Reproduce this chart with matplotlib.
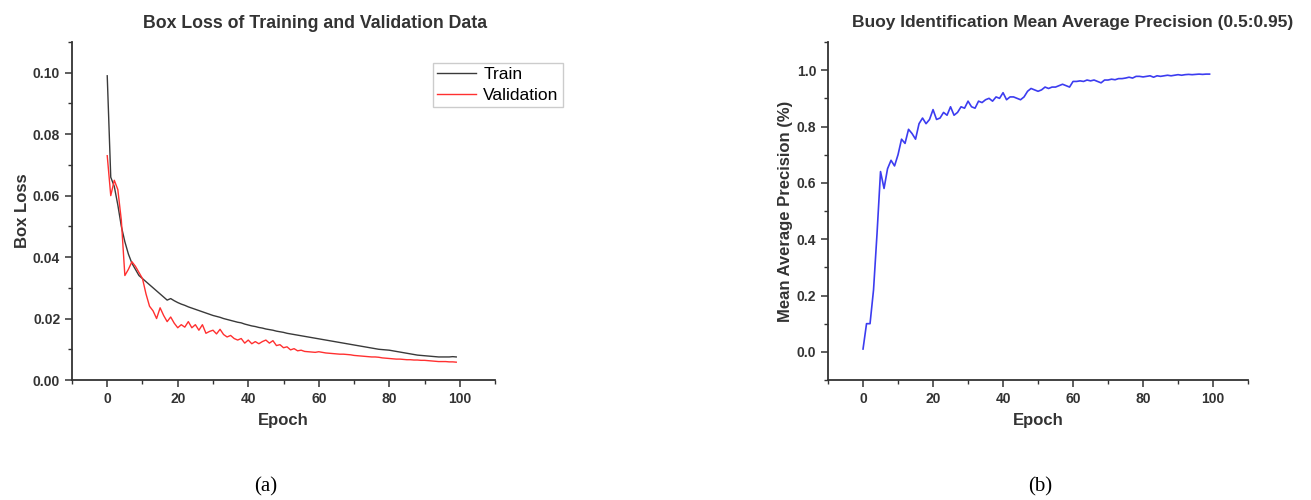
import numpy as np
import matplotlib
matplotlib.use("Agg")
import matplotlib.pyplot as plt
from matplotlib.ticker import MultipleLocator

plt.rcParams['font.family'] = ['Liberation Sans', 'DejaVu Sans']

# epochs 0..99
epochs = np.arange(100)

train_loss = [
    0.0990, 0.0660, 0.0630, 0.0570, 0.0500, 0.0450, 0.0410, 0.0380, 0.0360, 0.0340,
    0.0330, 0.0320, 0.0310, 0.0300, 0.0290, 0.0280, 0.0270, 0.0260, 0.0265, 0.0258,
    0.0252, 0.0247, 0.0243, 0.0238, 0.0234, 0.0230, 0.0226, 0.0222, 0.0218, 0.0214,
    0.0210, 0.0207, 0.0204, 0.0200, 0.0197, 0.0194, 0.0191, 0.0188, 0.0186, 0.0182,
    0.0179, 0.0176, 0.0174, 0.0171, 0.0169, 0.0166, 0.0164, 0.0162, 0.0159, 0.0157,
    0.0155, 0.0152, 0.0150, 0.0148, 0.0146, 0.0144, 0.0142, 0.0140, 0.0138, 0.0136,
    0.0134, 0.0132, 0.0130, 0.0128, 0.0126, 0.0124, 0.0122, 0.0120, 0.0118, 0.0116,
    0.0114, 0.0112, 0.0110, 0.0108, 0.0106, 0.0104, 0.0102, 0.0100, 0.0099, 0.0098,
    0.0097, 0.0095, 0.0093, 0.0091, 0.0089, 0.0087, 0.0085, 0.0083, 0.0081, 0.0080,
    0.0079, 0.0078, 0.0077, 0.0076, 0.0075, 0.0075, 0.0075, 0.0075, 0.0076, 0.0075,
]

val_loss = [
    0.0730, 0.0600, 0.0650, 0.0620, 0.0520, 0.0340, 0.0360, 0.0385, 0.0370, 0.0350,
    0.0330, 0.0280, 0.0240, 0.0225, 0.0200, 0.0235, 0.0210, 0.0190, 0.0205, 0.0185,
    0.0170, 0.0180, 0.0172, 0.0190, 0.0170, 0.0180, 0.0162, 0.0180, 0.0152, 0.0158,
    0.0162, 0.0150, 0.0165, 0.0148, 0.0140, 0.0145, 0.0135, 0.0130, 0.0135, 0.0120,
    0.0130, 0.0118, 0.0125, 0.0118, 0.0125, 0.0130, 0.0120, 0.0128, 0.0112, 0.0115,
    0.0105, 0.0108, 0.0098, 0.0102, 0.0095, 0.0097, 0.0093, 0.0092, 0.0091, 0.0090,
    0.0092, 0.0090, 0.0088, 0.0087, 0.0086, 0.0085, 0.0084, 0.0084, 0.0083, 0.0082,
    0.0080, 0.0079, 0.0078, 0.0077, 0.0076, 0.0075, 0.0075, 0.0074, 0.0072, 0.0071,
    0.0070, 0.0069, 0.0068, 0.0068, 0.0067, 0.0066, 0.0066, 0.0065, 0.0065, 0.0064,
    0.0064, 0.0063, 0.0062, 0.0061, 0.0060, 0.0060, 0.0060, 0.0059, 0.0059, 0.0058,
]

map_50_95 = [
    0.010, 0.100, 0.100, 0.220, 0.420, 0.640, 0.580, 0.650, 0.680, 0.660,
    0.700, 0.755, 0.740, 0.790, 0.775, 0.755, 0.810, 0.830, 0.810, 0.825,
    0.860, 0.825, 0.830, 0.850, 0.840, 0.870, 0.840, 0.850, 0.870, 0.865,
    0.890, 0.870, 0.865, 0.890, 0.885, 0.895, 0.900, 0.890, 0.905, 0.900,
    0.920, 0.895, 0.905, 0.905, 0.900, 0.895, 0.905, 0.925, 0.935, 0.930,
    0.925, 0.930, 0.940, 0.935, 0.940, 0.940, 0.945, 0.950, 0.945, 0.940,
    0.960, 0.960, 0.962, 0.960, 0.965, 0.962, 0.965, 0.960, 0.955, 0.965,
    0.965, 0.968, 0.966, 0.970, 0.970, 0.972, 0.975, 0.972, 0.978, 0.978,
    0.976, 0.978, 0.980, 0.975, 0.980, 0.978, 0.980, 0.982, 0.980, 0.982,
    0.984, 0.982, 0.984, 0.985, 0.984, 0.985, 0.986, 0.985, 0.986, 0.986,
]

tick_color = '#333333'


def style_axis(ax):
    for s in ['top', 'right']:
        ax.spines[s].set_visible(False)
    for s in ['left', 'bottom']:
        ax.spines[s].set_linewidth(1.3)
        ax.spines[s].set_color(tick_color)
    ax.tick_params(which='major', direction='out', length=5, width=1.1,
                   colors=tick_color, labelsize=10)
    ax.tick_params(which='minor', direction='out', length=3, width=1.0,
                   colors=tick_color)
    for lab in ax.get_xticklabels() + ax.get_yticklabels():
        lab.set_fontweight('bold')
    ax.set_xlim(-10, 110)
    ax.xaxis.set_major_locator(MultipleLocator(20))
    ax.xaxis.set_minor_locator(MultipleLocator(10))


fig = plt.figure(figsize=(13.11, 5.0), dpi=100)

# (a) box loss
ax1 = fig.add_axes([0.0549, 0.24, 0.3227, 0.676])
l1, = ax1.plot(epochs, train_loss, color='#3a3a3a', lw=1.0, label='Train')
l2, = ax1.plot(epochs, val_loss, color='#ff3030', lw=1.0, label='Validation')
ax1.set_ylim(0, 0.11)
ax1.yaxis.set_major_locator(MultipleLocator(0.02))
ax1.yaxis.set_minor_locator(MultipleLocator(0.01))
ax1.yaxis.set_major_formatter(matplotlib.ticker.FormatStrFormatter('%.2f'))
style_axis(ax1)
ax1.set_xlabel('Epoch', fontsize=12, fontweight='bold', color=tick_color)
ax1.set_ylabel('Box Loss', fontsize=12, fontweight='bold', color=tick_color)
ax1.xaxis.set_label_coords(0.5, -0.098)
ax1.yaxis.set_label_coords(-0.1, 0.5)

fig.legend(handles=[l1, l2], loc='upper left',
           bbox_to_anchor=(433 / 1311, 1 - 63 / 500), fontsize=12.5,
           frameon=True, fancybox=False, edgecolor='#cccccc', framealpha=1,
           handlelength=2.2, handletextpad=0.45, borderpad=0.25,
           labelspacing=0.3, borderaxespad=0)

fig.text(143 / 1311, 1 - 23 / 500, 'Box Loss of Training and Validation Data',
         ha='left', va='center', fontsize=12.8, fontweight='bold', color=tick_color)

# (b) mAP
ax2 = fig.add_axes([0.6316, 0.24, 0.3204, 0.676])
ax2.plot(epochs, map_50_95, color='#3c3cf0', lw=1.2)
ax2.set_ylim(-0.1, 1.1)
ax2.yaxis.set_major_locator(MultipleLocator(0.2))
ax2.yaxis.set_minor_locator(MultipleLocator(0.1))
ax2.yaxis.set_major_formatter(matplotlib.ticker.FormatStrFormatter('%.1f'))
style_axis(ax2)
ax2.set_xlabel('Epoch', fontsize=12, fontweight='bold', color=tick_color)
ax2.set_ylabel('Mean Average Precision (%)', fontsize=12, fontweight='bold', color=tick_color)
ax2.xaxis.set_label_coords(0.5, -0.098)
ax2.yaxis.set_label_coords(-0.083, 0.5)

fig.text(852 / 1311, 1 - 23 / 500,
         'Buoy Identification Mean Average Precision (0.5:0.95)',
         ha='left', va='center', fontsize=12.5, fontweight='bold', color=tick_color)

fig.text(266 / 1311, 1 - 487 / 500, '(a)', ha='center', va='center',
         fontsize=15, family='Liberation Serif')
fig.text(1040 / 1311, 1 - 487 / 500, '(b)', ha='center', va='center',
         fontsize=15, family='Liberation Serif')

fig.savefig('out.png', dpi=100)
